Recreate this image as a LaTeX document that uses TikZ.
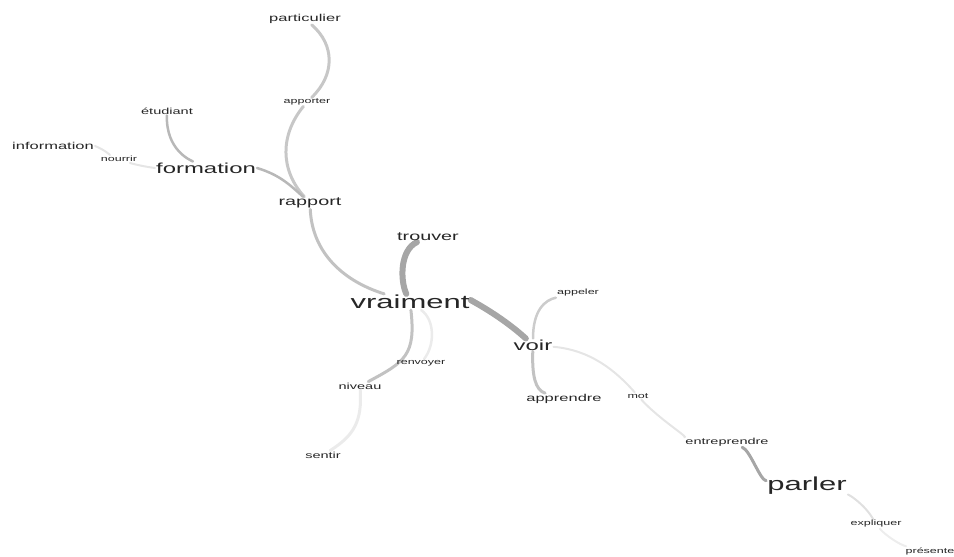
\documentclass[tikz,border=0pt]{standalone}
\usepackage{fontspec}
\usepackage{tikz}
\usetikzlibrary{backgrounds}
\newfontfamily\wordfont[FakeStretch=1.65]{Liberation Sans}
\tikzstyle{word} = [text=black!85, inner sep=1pt,
    font=\wordfont\fontsize{7.6}{9}\selectfont]
\tikzstyle{vbig} = [word, font=\wordfont\fontsize{18.8}{20}\selectfont]
\tikzstyle{big} = [word, font=\wordfont\fontsize{14.5}{16}\selectfont]
\tikzstyle{mid} = [word, font=\wordfont\fontsize{12}{14}\selectfont]
\tikzstyle{low} = [word, font=\wordfont\fontsize{10}{12}\selectfont]
\tikzstyle{vlow} = [word, font=\wordfont\fontsize{8.8}{10}\selectfont]
\tikzstyle{link} = [draw, line cap=round]
\tikzstyle{heavy} = [link, line width=6pt, color=black!35]
\tikzstyle{plain} = [link, line width=3pt, color=black!24]
\tikzstyle{faint} = [link, line width=2.5pt, color=black!10]

\begin{document}
\begin{tikzpicture}[x=1pt, y=-1pt]
  \useasboundingbox (0,0) rectangle (954,557);
  % Place nodes
  \node [low] (particulier) at (305,19) {particulier};
  \node [word] (apporter) at (307,102) {apporter};
  \node [vlow] (etudiant) at (167,111) {étudiant};
  \node [low] (information) at (53,146) {information};
  \node [word] (nourrir) at (119,159) {nourrir};
  \node [big] (formation) at (206,168) {formation};
  \node [mid] (rapport) at (310,203) {rapport};
  \node [mid] (trouver) at (428,237) {trouver};
  \node [vbig] (vraiment) at (410,302) {vraiment};
  \node [word] (renvoyer) at (421,363) {renvoyer};
  \node [vlow] (niveau) at (360,386) {niveau};
  \node [vlow] (sentir) at (323,455) {sentir};
  \node [word] (appeler) at (578,293) {appeler};
  \node [big] (voir) at (533,345) {voir};
  \node [low] (apprendre) at (564,399) {apprendre};
  \node [word] (mot) at (638,396) {mot};
  \node [vlow] (entreprendre) at (727,442) {entreprendre};
  \node [vbig] (parler) at (807,486) {parler};
  \node [word] (expliquer) at (876,524) {expliquer};
  \node [word] (presente) at (930,551) {présente};

  \begin{pgfonlayer}{background}
  % links
  \path [plain, color=black!22] (particulier) .. controls (335,45) and (335,75) .. (apporter);
  \path [plain, color=black!22] (apporter) .. controls (280,135) and (280,170) .. (rapport);
  \path [plain] (rapport) .. controls (312,250) and (340,280) .. (vraiment);
  \path [plain, line width=2.5pt, color=black!28] (formation.east) .. controls (280,175) and (290,185) .. (rapport);
  \path [plain, line width=2.5pt, color=black!28] (etudiant) .. controls (166,150) and (190,160) .. (formation);
  \path [faint, line width=2pt] (information.east) .. controls (105,150) and (110,155) .. (nourrir);
  \path [faint, line width=2pt] (nourrir) .. controls (130,163) and (140,166) .. (formation.west);

  \path [heavy] (trouver) .. controls (400,250) and (400,280) .. (vraiment);
  \path [heavy] (vraiment) .. controls (470,300) and (500,315) .. (voir);
  \path [plain] (vraiment) .. controls (416,355) and (405,362) .. (niveau);
  \path [faint, color=black!8] (vraiment) .. controls (435,320) and (435,345) .. (renvoyer);
  \path [faint, line width=3pt, color=black!8] (niveau) .. controls (362,420) and (355,435) .. (sentir);

  \path [plain, line width=2.5pt, color=black!20] (voir) .. controls (533,310) and (545,300) .. (appeler);
  \path [plain] (voir) .. controls (532,375) and (535,390) .. (apprendre);
  \path [faint, line width=2pt] (voir) .. controls (590,350) and (615,370) .. (mot);
  \path [faint, line width=2pt] (mot) .. controls (660,420) and (690,438) .. (entreprendre);
  \path [plain, color=black!35] (entreprendre) .. controls (750,450) and (760,480) .. (parler);
  \path [faint, line width=2pt, color=black!12] (parler) .. controls (850,495) and (865,505) .. (expliquer);
  \path [faint, line width=2pt, color=black!7] (expliquer) .. controls (885,535) and (900,545) .. (presente);
  \end{pgfonlayer}
\end{tikzpicture}
\end{document}
